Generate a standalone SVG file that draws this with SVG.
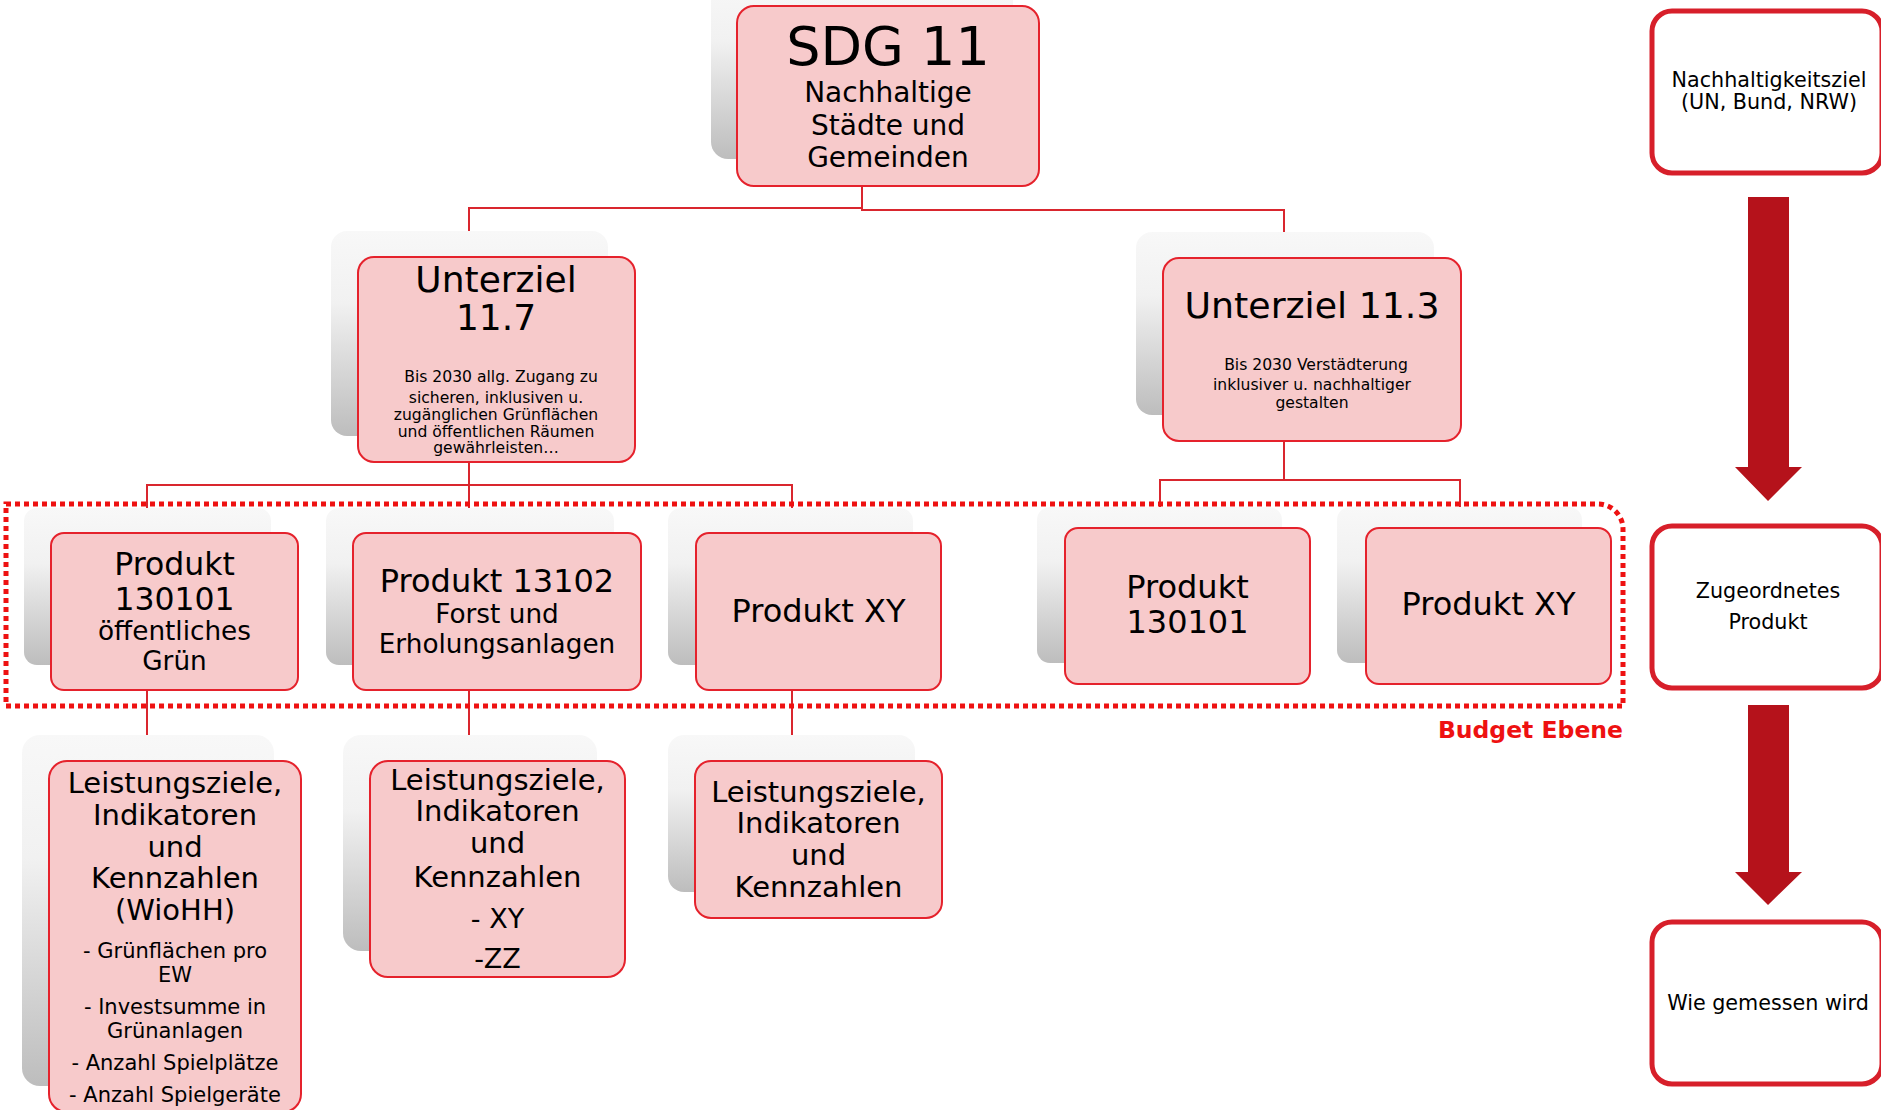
<svg xmlns="http://www.w3.org/2000/svg" width="1881" height="1110" viewBox="0 0 1881 1110">
<defs>
<linearGradient id="sh" x1="0" y1="0" x2="0" y2="1">
<stop offset="0" stop-color="#F8F8F8"/>
<stop offset="0.35" stop-color="#F1F1F1"/>
<stop offset="1" stop-color="#BDBDBD"/>
</linearGradient>
<style>
.shadow{fill:url(#sh);}
.box{fill:#F7CACB;stroke:#E5222C;stroke-width:2;}
.conn{fill:none;stroke:#D9262E;stroke-width:2;}
.t{font-family:"DejaVu Sans","Liberation Sans",sans-serif;fill:#000;text-anchor:middle;}
.side{fill:#fff;stroke:#D71F2A;stroke-width:5;}
.arrow{fill:#B5121B;}
</style>
</defs>
<rect width="1881" height="1110" fill="#fff"/>

<g id="connectors">
<polyline class="conn" points="862,186 862,208 469,208 469,257"/>
<polyline class="conn" points="862,186 862,210 1284,210 1284,258"/>
<polyline class="conn" points="469,462 469,485"/>
<polyline class="conn" points="147,533 147,485 792,485 792,533"/>
<polyline class="conn" points="469,485 469,533"/>
<polyline class="conn" points="1284,441 1284,480"/>
<polyline class="conn" points="1160,528 1160,480 1460,480 1460,528"/>
<line class="conn" x1="147" y1="690" x2="147" y2="761"/>
<line class="conn" x1="469" y1="690" x2="469" y2="761"/>
<line class="conn" x1="792" y1="690" x2="792" y2="761"/>
</g>

<g id="budget-ebene">
<path d="M6,504 H1598 A25,25 0 0 1 1623,529 V706 H6 Z" fill="none" stroke="#EE1111" stroke-width="5" stroke-dasharray="5 4"/>
<text x="1623" y="738" font-family="DejaVu Sans,Liberation Sans,sans-serif" font-weight="bold" font-size="23.5" fill="#EE1111" text-anchor="end">Budget Ebene</text>
</g>

<g id="sdg11">
<rect class="shadow" x="711" y="-21" width="302" height="180" rx="17"/>
<rect class="box" x="737" y="6" width="302" height="180" rx="17"/>
<text class="t" x="888" y="65" font-size="54">SDG 11</text>
<text class="t" x="888" y="102" font-size="28">Nachhaltige</text>
<text class="t" x="888" y="135" font-size="28">Städte und</text>
<text class="t" x="888" y="167" font-size="28">Gemeinden</text>
</g>

<g id="unterziel-11-7">
<rect class="shadow" x="331" y="231" width="277" height="205" rx="16"/>
<rect class="box" x="358" y="257" width="277" height="205" rx="16"/>
<text class="t" x="496" y="292" font-size="36">Unterziel</text>
<text class="t" x="496" y="330" font-size="36">11.7</text>
<text class="t" x="501" y="382" font-size="15.6">Bis 2030 allg. Zugang zu</text>
<text class="t" x="496" y="403" font-size="15.6">sicheren, inklusiven u.</text>
<text class="t" x="496" y="420" font-size="15.6">zugänglichen Grünflächen</text>
<text class="t" x="496" y="437" font-size="15.6">und öffentlichen Räumen</text>
<text class="t" x="496" y="453" font-size="15.6">gewährleisten…</text>
</g>

<g id="unterziel-11-3">
<rect class="shadow" x="1136" y="232" width="298" height="183" rx="16"/>
<rect class="box" x="1163" y="258" width="298" height="183" rx="16"/>
<text class="t" x="1312" y="318" font-size="36.3">Unterziel 11.3</text>
<text class="t" x="1316" y="370" font-size="15.6">Bis 2030 Verstädterung</text>
<text class="t" x="1312" y="390" font-size="15.6">inklusiver u. nachhaltiger</text>
<text class="t" x="1312" y="408" font-size="15.6">gestalten</text>
</g>

<g id="produkt-130101-gruen">
<rect class="shadow" x="24" y="508" width="247" height="157" rx="13"/>
<rect class="box" x="51" y="533" width="247" height="157" rx="13"/>
<text class="t" x="174.5" y="575" font-size="31.5">Produkt</text>
<text class="t" x="174.5" y="610" font-size="31.5">130101</text>
<text class="t" x="174.5" y="640" font-size="26.3">öffentliches</text>
<text class="t" x="174.5" y="670" font-size="26.3">Grün</text>
</g>

<g id="produkt-13102">
<rect class="shadow" x="326" y="508" width="288" height="157" rx="13"/>
<rect class="box" x="353" y="533" width="288" height="157" rx="13"/>
<text class="t" x="497" y="592" font-size="32">Produkt 13102</text>
<text class="t" x="497" y="623" font-size="26.3">Forst und</text>
<text class="t" x="497" y="653" font-size="26.3">Erholungsanlagen</text>
</g>

<g id="produkt-xy-1">
<rect class="shadow" x="668" y="508" width="245" height="157" rx="13"/>
<rect class="box" x="696" y="533" width="245" height="157" rx="13"/>
<text class="t" x="818.5" y="622" font-size="32">Produkt XY</text>
</g>

<g id="produkt-130101-b">
<rect class="shadow" x="1037" y="507" width="245" height="156" rx="13"/>
<rect class="box" x="1065" y="528" width="245" height="156" rx="13"/>
<text class="t" x="1187.5" y="598" font-size="32">Produkt</text>
<text class="t" x="1187.5" y="633" font-size="32">130101</text>
</g>

<g id="produkt-xy-2">
<rect class="shadow" x="1337" y="507" width="245" height="156" rx="13"/>
<rect class="box" x="1366" y="528" width="245" height="156" rx="13"/>
<text class="t" x="1488.5" y="615" font-size="32">Produkt XY</text>
</g>

<g id="leistungsziele-1">
<rect class="shadow" x="22" y="735" width="252" height="351" rx="18"/>
<rect class="box" x="49" y="761" width="252" height="351" rx="18"/>
<text class="t" x="175" y="793" font-size="29">Leistungsziele,</text>
<text class="t" x="175" y="825" font-size="29">Indikatoren</text>
<text class="t" x="175" y="857" font-size="29">und</text>
<text class="t" x="175" y="888" font-size="29">Kennzahlen</text>
<text class="t" x="175" y="920" font-size="29">(WioHH)</text>
<text class="t" x="175" y="958" font-size="21">- Grünflächen pro</text>
<text class="t" x="175" y="982" font-size="21">EW</text>
<text class="t" x="175" y="1014" font-size="21">- Investsumme in</text>
<text class="t" x="175" y="1038" font-size="21">Grünanlagen</text>
<text class="t" x="175" y="1070" font-size="21">- Anzahl Spielplätze</text>
<text class="t" x="175" y="1102" font-size="21">- Anzahl Spielgeräte</text>
</g>

<g id="leistungsziele-2">
<rect class="shadow" x="343" y="735" width="254" height="216" rx="18"/>
<rect class="box" x="370" y="761" width="255" height="216" rx="18"/>
<text class="t" x="497.5" y="790" font-size="29">Leistungsziele,</text>
<text class="t" x="497.5" y="821" font-size="29">Indikatoren</text>
<text class="t" x="497.5" y="853" font-size="29">und</text>
<text class="t" x="497.5" y="887" font-size="29">Kennzahlen</text>
<text class="t" x="497.5" y="928" font-size="27">- XY</text>
<text class="t" x="497.5" y="968" font-size="27">-ZZ</text>
</g>

<g id="leistungsziele-3">
<rect class="shadow" x="668" y="735" width="247" height="157" rx="16"/>
<rect class="box" x="695" y="761" width="247" height="157" rx="16"/>
<text class="t" x="818.5" y="802" font-size="29">Leistungsziele,</text>
<text class="t" x="818.5" y="833" font-size="29">Indikatoren</text>
<text class="t" x="818.5" y="865" font-size="29">und</text>
<text class="t" x="818.5" y="897" font-size="29">Kennzahlen</text>
</g>

<g id="legend-nachhaltigkeitsziel">
<rect class="side" x="1652" y="11" width="230" height="162" rx="20"/>
<text class="t" x="1769" y="87" font-size="20.7">Nachhaltigkeitsziel</text>
<text class="t" x="1769" y="109" font-size="20.7">(UN, Bund, NRW)</text>
</g>

<g id="legend-arrow-1">
<polygon class="arrow" points="1748,197 1789,197 1789,467 1802,467 1768,501 1735,467 1748,467"/>
</g>

<g id="legend-produkt">
<rect class="side" x="1652" y="526" width="230" height="162" rx="20"/>
<text class="t" x="1768" y="598" font-size="20.7">Zugeordnetes</text>
<text class="t" x="1768" y="629" font-size="20.7">Produkt</text>
</g>

<g id="legend-arrow-2">
<polygon class="arrow" points="1748,705 1789,705 1789,872 1802,872 1768,905 1735,872 1748,872"/>
</g>

<g id="legend-gemessen">
<rect class="side" x="1652" y="922" width="230" height="162" rx="20"/>
<text class="t" x="1768" y="1010" font-size="20.7">Wie gemessen wird</text>
</g>
</svg>
